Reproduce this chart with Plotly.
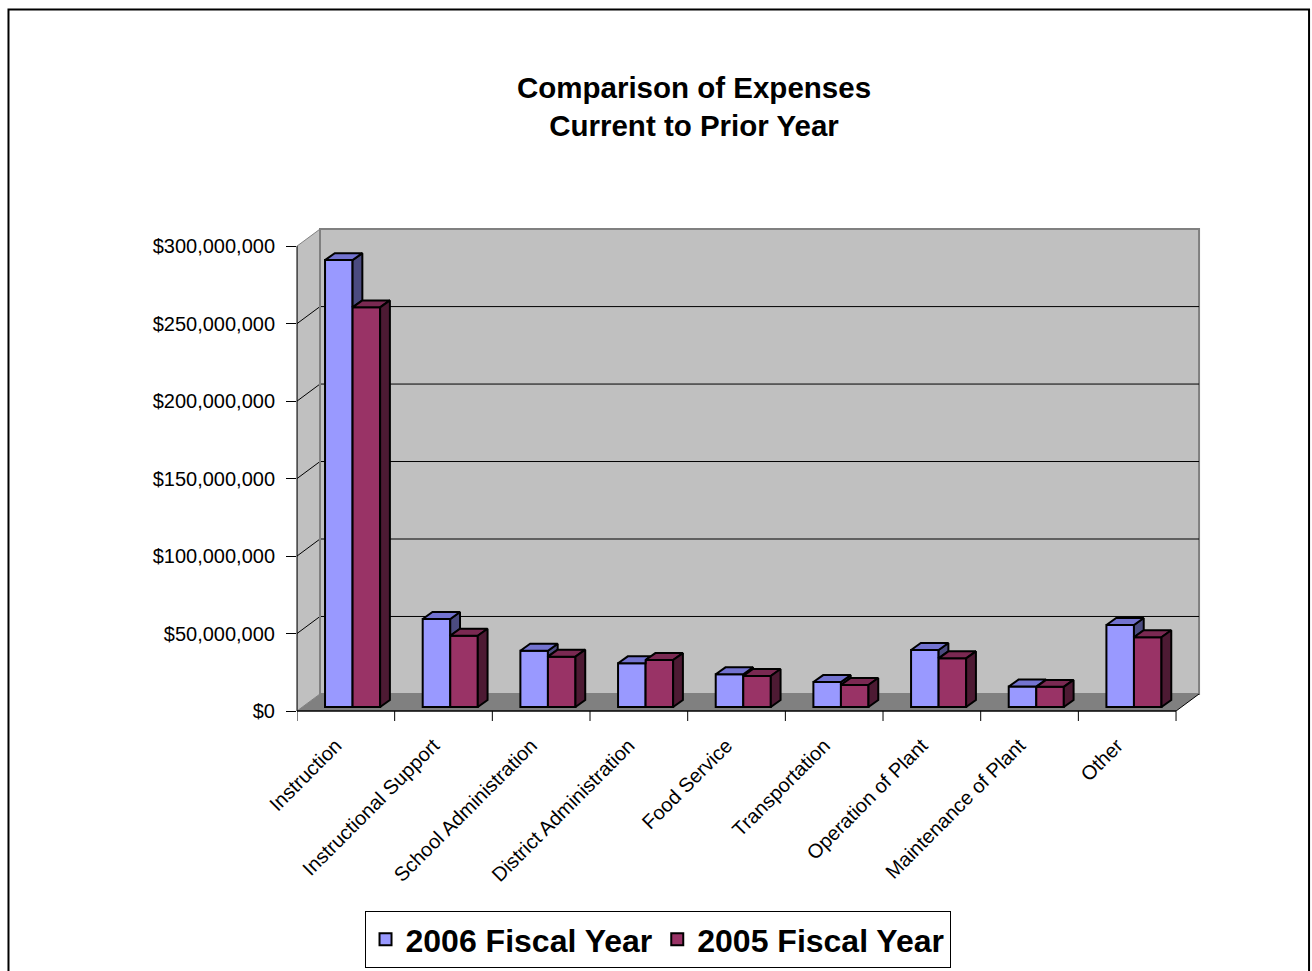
import plotly.graph_objects as go

# ---------------- data ----------------
categories = ["Instruction", "Instructional Support", "School Administration",
              "District Administration", "Food Service", "Transportation",
              "Operation of Plant", "Maintenance of Plant", "Other"]
fy2006 = [288.4e6, 56.8e6, 36.3e6, 28.2e6, 21.1e6, 16.1e6, 36.8e6, 13.2e6, 52.9e6]
fy2005 = [257.9e6, 46.0e6, 32.5e6, 30.3e6, 20.0e6, 14.2e6, 31.4e6, 13.0e6, 45.0e6]
series_names = ["2006 Fiscal Year", "2005 Fiscal Year"]
y_tick_values = [0, 50e6, 100e6, 150e6, 200e6, 250e6, 300e6]

# ---------------- style / geometry ----------------
W, H = 1312, 971
FONT = "Liberation Sans, Arial, sans-serif"
front_colors = ["#9999FF", "#993366"]
top_colors = ["#7373D0", "#7A2952"]
side_colors = ["#4B4B80", "#4D1A33"]
WALL = "#C0C0C0"
FLOOR = "#808080"

DX = 0.2355          # wall depth in category units
DY = 11e6            # wall depth in value units
FRONT_F = 0.235      # depth fraction of bar front plane
BASE = FRONT_F * DY
BDX = 0.10           # bar depth (x)
BDY = 4.5e6          # bar depth (y)
BAR_W = 0.282
OFFSETS = [-0.213, 0.069]

n = len(categories)
xs = list(range(n))
x_min, x_max = -0.5, n - 0.5 + DX + 0.02
y_max = 313e6

left_px, axis_px_y, cat_px = 297, 711, (1176 - 297) / 9
plot_w = (x_max - x_min) * cat_px
margin_r = W - left_px - plot_w
plot_h = 485
margin_t = axis_px_y - plot_h
margin_b = H - axis_px_y

fig = go.Figure()

# front faces of bars
series = [fy2006, fy2005]
for s in range(2):
    fig.add_trace(go.Bar(
        x=xs, y=series[s], base=[BASE] * n, width=BAR_W, offset=OFFSETS[s],
        marker=dict(color=front_colors[s], line=dict(color="black", width=2)),
        name=series_names[s], showlegend=False,
        customdata=categories,
        hovertemplate="%{customdata}<br>$%{y:,.0f}<extra>" + series_names[s] + "</extra>",
        textposition="none",
    ))


def poly_trace(polys, color):
    px, py = [], []
    for pts in polys:
        for (a, b) in pts:
            px.append(a)
            py.append(b)
        px.append(pts[0][0])
        py.append(pts[0][1])
        px.append(None)
        py.append(None)
    return go.Scatter(x=px, y=py, mode="lines", fill="toself", fillcolor=color,
                      line=dict(color="black", width=2), hoverinfo="skip",
                      showlegend=False)


blue_sides, blue_tops, red_tops, red_sides = [], [], [], []
for i in range(n):
    t1 = BASE + fy2006[i]
    t2 = BASE + fy2005[i]
    xl1 = i + OFFSETS[0]
    xr1 = xl1 + BAR_W
    xl2 = i + OFFSETS[1]
    xr2 = xl2 + BAR_W
    # blue top, clipped by the maroon box in front
    c = min(max(t2, t1), t1 + BDY)
    blue_tops.append([(xl1, t1), (xr1, t1), (xr1, c),
                      (xr1 + (t1 + BDY - c) / BDY * BDX, t1 + BDY),
                      (xl1 + BDX, t1 + BDY)])
    # blue side, only above the maroon top
    h0 = max(t2, BASE)
    if h0 < t1:
        blue_sides.append([(xr1, h0), (xr1, t1), (xr1 + BDX, t1 + BDY),
                           (xr1 + BDX, h0 + BDY)])
    red_tops.append([(xl2, t2), (xr2, t2), (xr2 + BDX, t2 + BDY), (xl2 + BDX, t2 + BDY)])
    red_sides.append([(xr2, BASE), (xr2, t2), (xr2 + BDX, t2 + BDY), (xr2 + BDX, BASE + BDY)])

if blue_sides:
    fig.add_trace(poly_trace(blue_sides, side_colors[0]))
fig.add_trace(poly_trace(blue_tops, top_colors[0]))
fig.add_trace(poly_trace(red_tops, top_colors[1]))
fig.add_trace(poly_trace(red_sides, side_colors[1]))

# legend proxies
for s in range(2):
    fig.add_trace(go.Scatter(
        x=[None], y=[None], mode="markers", name=series_names[s],
        marker=dict(symbol="square", size=18, color=front_colors[s],
                    line=dict(color="black", width=2)),
    ))

# ---------------- walls, floor, gridlines ----------------
shapes = []
xl_w, xr_w = -0.5, n - 0.5
# side wall
shapes.append(dict(type="path", layer="below", xref="x", yref="y",
                   path=f"M {xl_w},0 L {xl_w},{y_tick_values[-1]} L {xl_w+DX},{y_tick_values[-1]+DY} L {xl_w+DX},{DY} Z",
                   fillcolor=WALL, line=dict(color=FLOOR, width=1)))
# back wall
shapes.append(dict(type="rect", layer="below", xref="x", yref="y",
                   x0=xl_w + DX, x1=xr_w + DX, y0=DY, y1=y_tick_values[-1] + DY,
                   fillcolor=WALL, line=dict(color=FLOOR, width=2)))
# floor
shapes.append(dict(type="path", layer="below", xref="x", yref="y",
                   path=f"M {xl_w},0 L {xr_w},0 L {xr_w+DX},{DY} L {xl_w+DX},{DY} Z",
                   fillcolor=FLOOR, line=dict(width=0)))
# gridlines on back wall and side wall
for v in y_tick_values[1:-1]:
    shapes.append(dict(type="line", layer="below", xref="x", yref="y",
                       x0=xl_w + DX, x1=xr_w + DX, y0=v + DY, y1=v + DY,
                       line=dict(color="black", width=1)))
    shapes.append(dict(type="line", layer="below", xref="x", yref="y",
                       x0=xl_w, x1=xl_w + DX, y0=v, y1=v + DY,
                       line=dict(color="black", width=1)))
# back wall left edge darker
shapes.append(dict(type="line", layer="below", xref="x", yref="y",
                   x0=xl_w + DX, x1=xl_w + DX, y0=DY, y1=y_tick_values[-1] + DY,
                   line=dict(color=FLOOR, width=2)))
# floor right diagonal
shapes.append(dict(type="line", layer="above", xref="x", yref="y",
                   x0=xr_w, x1=xr_w + DX, y0=0, y1=DY,
                   line=dict(color="black", width=1)))
# value axis line
shapes.append(dict(type="line", layer="above", xref="paper", yref="y",
                   x0=0, x1=0, y0=0, y1=y_tick_values[-1],
                   line=dict(color="black", width=1)))
# category axis line
shapes.append(dict(type="line", layer="above", xref="x", yref="paper",
                   x0=xl_w, x1=xr_w, y0=0, y1=0,
                   line=dict(color="black", width=1.5)))
# category boundary ticks
for k in range(n + 1):
    xb = k - 0.5
    shapes.append(dict(type="line", layer="above", xref="x", yref="paper",
                       x0=xb, x1=xb, y0=0, y1=-10 / plot_h,
                       line=dict(color="black", width=1)))
# outer chart border
shapes.append(dict(type="rect", xref="paper", yref="paper",
                   x0=(8.5 - left_px) / plot_w, x1=(1309 - left_px) / plot_w,
                   y0=(axis_px_y - 990) / plot_h, y1=(axis_px_y - 9.5) / plot_h,
                   line=dict(color="black", width=2), fillcolor="rgba(0,0,0,0)"))

fig.update_layout(
    width=W, height=H,
    margin=dict(l=left_px, r=margin_r, t=margin_t, b=margin_b, pad=0, autoexpand=False),
    paper_bgcolor="white", plot_bgcolor="white",
    font=dict(family=FONT, size=20, color="black"),
    barmode="overlay",
    shapes=shapes,
    title=dict(text="<b>Comparison of Expenses<br>Current to Prior Year</b>",
               x=694 / W, xanchor="center", y=1 - 98 / H, yanchor="top",
               font=dict(family=FONT, size=29.5, color="black")),
    xaxis=dict(range=[x_min, x_max], tickvals=xs, ticktext=categories,
               tickangle=-45, showgrid=False, zeroline=False, showline=False,
               ticks="", ticklabelstandoff=18, ticklabelshift=-10, fixedrange=True),
    yaxis=dict(range=[0, y_max], tickvals=y_tick_values, tickformat="$,.0f",
               showgrid=False, zeroline=False, showline=False,
               ticks="outside", ticklen=10, tickcolor="black", tickwidth=1,
               ticklabelstandoff=7, fixedrange=True),
    legend=dict(orientation="h", x=(657.5 - left_px) / plot_w, xanchor="center",
                y=-(911 - axis_px_y) / plot_h, yanchor="top",
                bordercolor="black", borderwidth=1, bgcolor="white",
                font=dict(family=FONT, size=32, weight="bold", color="black"),
                itemsizing="constant", itemwidth=30),
)

fig.write_html("out.html")
